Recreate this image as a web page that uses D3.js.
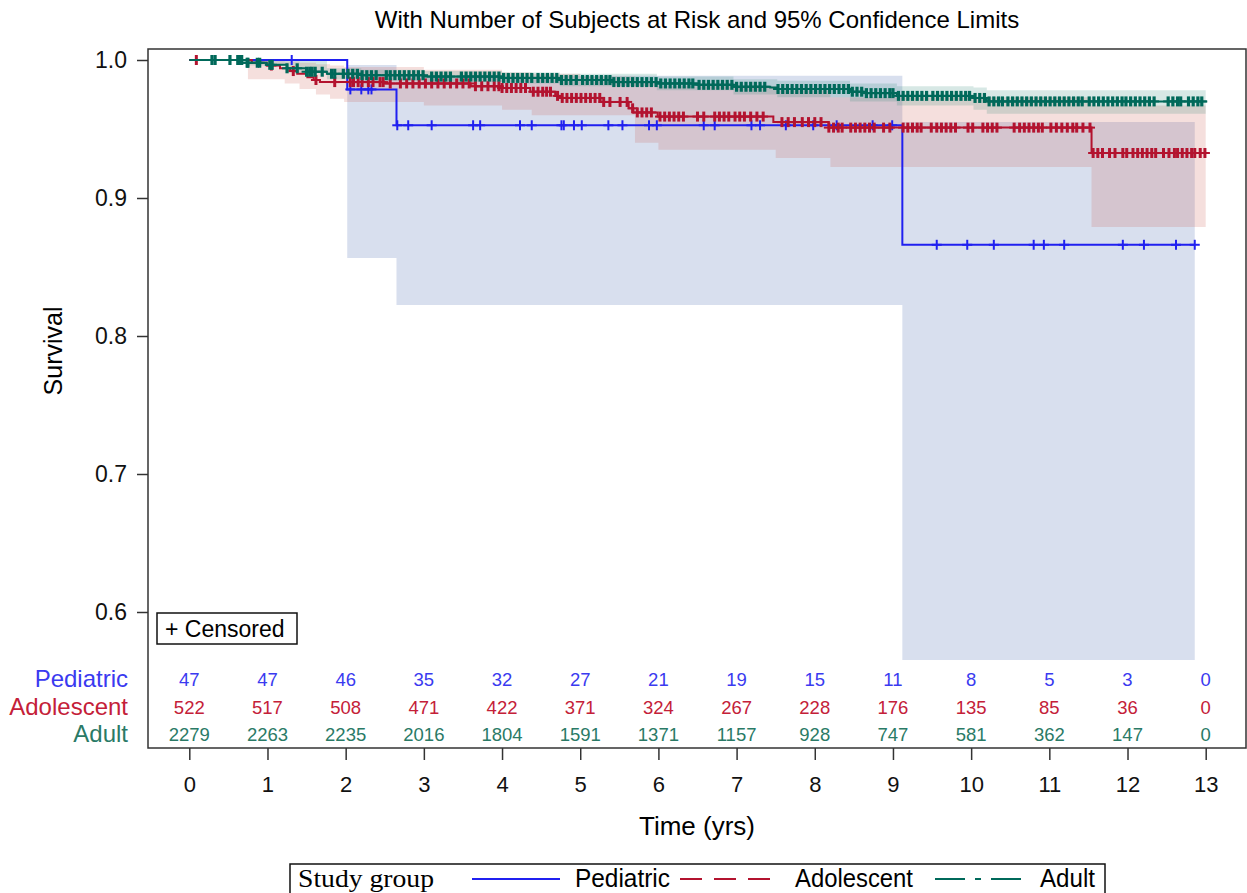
<!DOCTYPE html>
<html>
<head>
<meta charset="utf-8">
<script src="https://cdn.jsdelivr.net/npm/d3@7"></script>
<style>
  body { margin: 0; background: #fff; }
  text { font-family: "Liberation Sans", Arial, sans-serif; }
</style>
</head>
<body>
<div id="chart"></div>
<script>
// ---- data ----
var groups = ["Pediatric", "Adolescent", "Adult"];
var riskTimes = [0, 1, 2, 3, 4, 5, 6, 7, 8, 9, 10, 11, 12, 13];
var riskPed = [47, 47, 46, 35, 32, 27, 21, 19, 15, 11, 8, 5, 3, 0];
var riskAdo = [522, 517, 508, 471, 422, 371, 324, 267, 228, 176, 135, 85, 36, 0];
var riskAdu = [2279, 2263, 2235, 2016, 1804, 1591, 1371, 1157, 928, 747, 581, 362, 147, 0];
var yTicks = [0.6, 0.7, 0.8, 0.9, 1.0];

// Pediatric KM steps
var pedTime = [0, 2.02, 2.65, 9.12, 12.86];
var pedSurv = [1, 0.9787, 0.9527, 0.8661, 0.8661];
var pedCiTime = [2.02, 2.65, 9.12, 12.86];
var pedLower = [0.8565, 0.8225, 0.5652, 0.5652];
var pedUpper = [0.9964, 0.9885, 0.955, 0.955];
var pedCens = [1.31, 2.06, 2.20, 2.29, 2.33, 2.66, 2.80, 3.10, 3.63, 3.72, 4.23, 4.38, 4.76, 4.79, 4.92,
  5.02, 5.36, 5.54, 5.88, 5.98, 6.58, 6.72, 7.19, 7.30, 7.63, 7.98, 8.28, 8.74, 8.99, 9.56, 9.95,
  10.29, 10.80, 10.93, 11.19, 11.94, 12.21, 12.62, 12.86];

// Adolescent KM steps
var adoTime = [0, 0.80, 0.99, 1.16, 1.29, 1.38, 1.51, 1.59, 1.67, 2.5, 3.6, 3.98, 4.36, 4.68, 4.75,
  5.26, 5.62, 5.68, 5.99, 7.47, 8.18, 11.54, 13.0];
var adoSurv = [1, 0.998, 0.996, 0.994, 0.992, 0.990, 0.9875, 0.9855, 0.984, 0.983, 0.981, 0.9797,
  0.977, 0.974, 0.9725, 0.9696, 0.965, 0.962, 0.959, 0.955, 0.951, 0.9326, 0.9326];
var adoCiTime = [0.75, 1.22, 1.41, 1.62, 1.80, 1.98, 3.0, 4.0, 4.38, 5.0, 5.7, 6.0, 7.5, 8.2, 11.54, 13.0];
var adoLower = [0.986, 0.983, 0.979, 0.975, 0.972, 0.9696, 0.967, 0.964, 0.960, 0.960, 0.940, 0.935,
  0.929, 0.9225, 0.879, 0.879];
var adoUpper = [1.0, 0.999, 0.998, 0.997, 0.996, 0.995, 0.993, 0.991, 0.990, 0.988, 0.984, 0.981,
  0.978, 0.973, 0.967, 0.967];
var adoCens = [0.09, 1.05, 1.33, 1.62, 1.86, 2.06, 2.10, 2.16, 2.21, 2.29, 2.35, 2.44, 2.48, 2.57,
  2.70, 2.78, 2.86, 2.94, 3.02, 3.10, 3.18, 3.26, 3.34, 3.42, 3.50, 3.58, 3.66, 3.74, 3.82, 3.90, 3.96,
  4.00, 4.06, 4.12, 4.18, 4.24, 4.30, 4.40, 4.46, 4.52, 4.57, 4.62,
  4.71, 4.77, 4.83, 4.89, 4.95, 5.01, 5.07, 5.13, 5.19, 5.25, 5.30, 5.38, 5.51, 5.60,
  5.67, 5.73, 5.79, 5.85, 5.91, 6.02, 6.08, 6.14, 6.20, 6.26, 6.32, 6.50, 6.58,
  6.72, 6.78, 6.84, 6.90, 6.98, 7.04, 7.10, 7.18, 7.26, 7.34,
  7.58, 7.66, 7.74, 7.84, 7.92, 8.00, 8.08, 8.18, 8.24, 8.30, 8.35,
  8.46, 8.52, 8.58, 8.64, 8.70, 8.76, 8.88, 8.96, 9.13, 9.19, 9.25, 9.31, 9.36,
  9.49, 9.56, 9.62, 9.68, 9.74, 9.80, 9.96, 10.02, 10.15, 10.21, 10.27, 10.33,
  10.55, 10.62, 10.68, 10.74, 10.80, 10.86, 10.91, 11.02, 11.09, 11.16, 11.23, 11.30, 11.35,
  11.43, 11.52, 11.56, 11.62, 11.68, 11.77, 11.84, 11.94, 11.99,
  12.07, 12.13, 12.19, 12.25, 12.31, 12.36, 12.46, 12.53, 12.60,
  12.64, 12.70, 12.76, 12.82, 12.86, 12.93, 12.99];

// Adult KM steps
var aduTime = [0, 0.74, 0.99, 1.25, 1.50, 1.76, 2.2, 3.0, 4.0, 4.74, 5.42, 5.98, 6.5, 6.96, 7.43,
  7.52, 8.45, 8.62, 9.05, 10.03, 10.2, 13.02];
var aduSurv = [1, 0.998, 0.9965, 0.994, 0.9915, 0.990, 0.989, 0.988, 0.987, 0.9855, 0.984, 0.983,
  0.982, 0.9806, 0.980, 0.979, 0.977, 0.976, 0.974, 0.9725, 0.970, 0.970];
var aduCiTime = [0.74, 1.25, 1.76, 2.2, 3.0, 4.0, 4.74, 5.98, 6.96, 7.52, 8.45, 9.05, 10.03, 10.2, 13.0];
var aduLower = [0.996, 0.991, 0.986, 0.985, 0.984, 0.983, 0.981, 0.978, 0.975, 0.973, 0.970, 0.967,
  0.964, 0.961, 0.961];
var aduUpper = [1.0, 1.0, 0.994, 0.993, 0.992, 0.991, 0.990, 0.988, 0.986, 0.985, 0.983, 0.981,
  0.980, 0.978, 0.978];
var aduCens = [0.29, 0.33, 0.52, 0.62, 0.65, 0.67, 0.74, 0.75, 0.87, 0.90, 1.03, 1.06, 1.25, 1.38,
  1.50, 1.54, 1.57, 1.61, 1.70, 1.82, 1.86, 1.97,
  2.03, 2.09, 2.15, 2.21, 2.27, 2.33, 2.39, 2.52, 2.57, 2.63, 2.69, 2.75, 2.81, 2.87, 2.93, 2.99,
  3.10, 3.16, 3.22, 3.28, 3.34, 3.48, 3.54, 3.60, 3.66, 3.72, 3.78, 3.84, 3.90, 3.96,
  4.02, 4.08, 4.14, 4.20, 4.26, 4.32, 4.38, 4.46, 4.52, 4.58, 4.64, 4.70, 4.76, 4.82, 4.88, 4.95,
  5.03, 5.09, 5.15, 5.21, 5.27, 5.33, 5.38, 5.43, 5.49, 5.55, 5.61, 5.67, 5.73, 5.79, 5.85, 5.91, 5.97,
  6.03, 6.09, 6.15, 6.21, 6.27, 6.33, 6.39, 6.44, 6.52, 6.58, 6.64, 6.70, 6.76, 6.82, 6.88, 6.94,
  7.00, 7.06, 7.12, 7.18, 7.24, 7.30, 7.36, 7.53, 7.59, 7.65, 7.71, 7.77, 7.83, 7.89, 7.95,
  8.01, 8.07, 8.13, 8.19, 8.25, 8.31, 8.37, 8.43, 8.48, 8.54, 8.60, 8.66, 8.72, 8.78, 8.84, 8.90,
  8.96, 9.00, 9.07, 9.13, 9.19, 9.25, 9.31, 9.37, 9.43, 9.51, 9.57, 9.63, 9.69, 9.75,
  9.81, 9.87, 9.93, 9.98, 10.05, 10.11, 10.17, 10.23, 10.29, 10.35, 10.40,
  10.47, 10.53, 10.59, 10.65, 10.71, 10.77, 10.83, 10.89, 10.95, 11.01, 11.07, 11.13, 11.19,
  11.25, 11.31, 11.37, 11.42, 11.51, 11.57, 11.63, 11.69, 11.75, 11.81, 11.87, 11.93, 11.98,
  12.04, 12.10, 12.16, 12.22, 12.28, 12.34, 12.52, 12.58, 12.64, 12.68, 12.78, 12.84, 12.90, 12.95];

var lineColors = ["#2020f0", "#b3132f", "#00695a"];
var textColors = ["#3a3af0", "#c42038", "#2a7a66"];
var bandColors = ["rgb(60,95,170)", "rgb(203,95,83)", "rgb(55,139,123)"];
var markWidth = [2, 3, 3.2];

// ---- layout ----
var W = 1247, H = 893;
var frame = {left: 148, top: 49, right: 1246, bottom: 748};

var svg = d3.select("#chart").append("svg")
  .attr("width", W).attr("height", H);

var x = d3.scaleLinear().domain([0, 13]).range([189.3, 1205.7]);
var y = d3.scaleLinear().domain([0.6, 1.0]).range([612, 60]);

// title
svg.append("text")
  .attr("x", (frame.left + frame.right) / 2).attr("y", 28)
  .attr("text-anchor", "middle").style("font-size", "24px")
  .text("With Number of Subjects at Risk and 95% Confidence Limits");

function stepVal(times, vals, t) {
  var i = d3.bisectRight(times, t) - 1;
  return vals[Math.max(0, i)];
}

var series = [
  {time: pedTime, surv: pedSurv, ciT: pedCiTime, lo: pedLower, up: pedUpper, cens: pedCens},
  {time: adoTime, surv: adoSurv, ciT: adoCiTime, lo: adoLower, up: adoUpper, cens: adoCens},
  {time: aduTime, surv: aduSurv, ciT: aduCiTime, lo: aduLower, up: aduUpper, cens: aduCens}
];

// confidence bands
var area = d3.area()
  .x(function(d) { return x(d.t); })
  .y0(function(d) { return y(d.lo); })
  .y1(function(d) { return y(d.up); })
  .curve(d3.curveStepAfter);

series.forEach(function(s, i) {
  var pts = s.ciT.map(function(t, j) { return {t: t, lo: s.lo[j], up: s.up[j]}; });
  svg.append("path").datum(pts)
    .attr("d", area)
    .attr("fill", bandColors[i])
    .attr("fill-opacity", 0.2);
});

// survival curves + censor marks
var line = d3.line()
  .x(function(d) { return x(d.t); })
  .y(function(d) { return y(d.s); })
  .curve(d3.curveStepAfter);

series.forEach(function(s, i) {
  var pts = s.time.map(function(t, j) { return {t: t, s: s.surv[j]}; });
  svg.append("path").datum(pts)
    .attr("d", line)
    .attr("fill", "none")
    .attr("stroke", lineColors[i])
    .attr("stroke-width", 2);

  var g = svg.append("g").attr("stroke", lineColors[i]);
  s.cens.forEach(function(t) {
    var cx = x(t), cy = y(stepVal(s.time, s.surv, t));
    g.append("line").attr("x1", cx).attr("x2", cx).attr("y1", cy - 5).attr("y2", cy + 5)
      .attr("stroke-width", markWidth[i]);
    g.append("line").attr("x1", cx - 5).attr("x2", cx + 5).attr("y1", cy).attr("y2", cy)
      .attr("stroke-width", 2);
  });
});

// frame
svg.append("rect")
  .attr("x", frame.left).attr("y", frame.top)
  .attr("width", frame.right - frame.left).attr("height", frame.bottom - frame.top)
  .attr("fill", "none").attr("stroke", "#333").attr("stroke-width", 1.5);

// y axis
var yAxis = svg.append("g")
  .attr("transform", "translate(" + frame.left + ",0)")
  .call(d3.axisLeft(y).tickValues(yTicks).tickFormat(d3.format(".1f")).tickSize(11).tickPadding(10));
yAxis.select(".domain").remove();
yAxis.selectAll("line").attr("stroke", "#333").attr("stroke-width", 1.5);
yAxis.selectAll("text").style("font-size", "23px").attr("fill", "#111")
  .style("font-family", "'Liberation Sans', Arial, sans-serif");

// x axis
var xAxis = svg.append("g")
  .attr("transform", "translate(0," + frame.bottom + ")")
  .call(d3.axisBottom(x).tickValues(riskTimes).tickSize(12).tickPadding(16));
xAxis.select(".domain").remove();
xAxis.selectAll("line").attr("stroke", "#333").attr("stroke-width", 1.5);
xAxis.selectAll("text").style("font-size", "22px").attr("fill", "#111")
  .style("font-family", "'Liberation Sans', Arial, sans-serif");

// axis titles
svg.append("text")
  .attr("x", (frame.left + frame.right) / 2).attr("y", 835)
  .attr("text-anchor", "middle").style("font-size", "26px")
  .text("Time (yrs)");
svg.append("text")
  .attr("transform", "translate(62,351) rotate(-90)")
  .attr("text-anchor", "middle").style("font-size", "25px")
  .text("Survival");

// censored key
svg.append("rect")
  .attr("x", 157).attr("y", 613).attr("width", 140).attr("height", 31)
  .attr("fill", "#fff").attr("stroke", "#111").attr("stroke-width", 1.5);
svg.append("text")
  .attr("x", 165).attr("y", 637).style("font-size", "23px")
  .text("+ Censored");

// at-risk table
var riskRows = [riskPed, riskAdo, riskAdu];
var rowBase = [687, 715, 742];
riskRows.forEach(function(row, i) {
  svg.append("text")
    .attr("x", 128).attr("y", rowBase[i])
    .attr("text-anchor", "end").style("font-size", "24px")
    .attr("fill", textColors[i])
    .text(groups[i]);
  svg.append("g").selectAll("text").data(row).enter().append("text")
    .attr("x", function(d, j) { return x(riskTimes[j]); })
    .attr("y", rowBase[i] - 1)
    .attr("text-anchor", "middle").style("font-size", "18.5px")
    .attr("fill", textColors[i])
    .text(function(d) { return d; });
});

// legend
var leg = svg.append("g");
leg.append("rect")
  .attr("x", 290).attr("y", 864).attr("width", 815).attr("height", 40)
  .attr("fill", "#fff").attr("stroke", "#111").attr("stroke-width", 1.5);
leg.append("text")
  .attr("x", 298).attr("y", 887)
  .style("font-family", "'Liberation Serif', 'Times New Roman', serif")
  .style("font-size", "25px")
  .attr("textLength", 136).attr("lengthAdjust", "spacingAndGlyphs")
  .text("Study group");

var legItems = [
  {x1: 472, x2: 560, tx: 575, tw: 95, dash: null},
  {x1: 680, x2: 776, tx: 795, tw: 118, dash: "22,12"},
  {x1: 935, x2: 1025, tx: 1040, tw: 55, dash: "30,10,6,10"}
];
legItems.forEach(function(d, i) {
  leg.append("line")
    .attr("x1", d.x1).attr("x2", d.x2).attr("y1", 879).attr("y2", 879)
    .attr("stroke", lineColors[i]).attr("stroke-width", 2)
    .attr("stroke-dasharray", d.dash);
  leg.append("text")
    .attr("x", d.tx).attr("y", 887)
    .style("font-size", "25px")
    .attr("textLength", d.tw).attr("lengthAdjust", "spacingAndGlyphs")
    .text(groups[i]);
});
</script>
</body>
</html>
